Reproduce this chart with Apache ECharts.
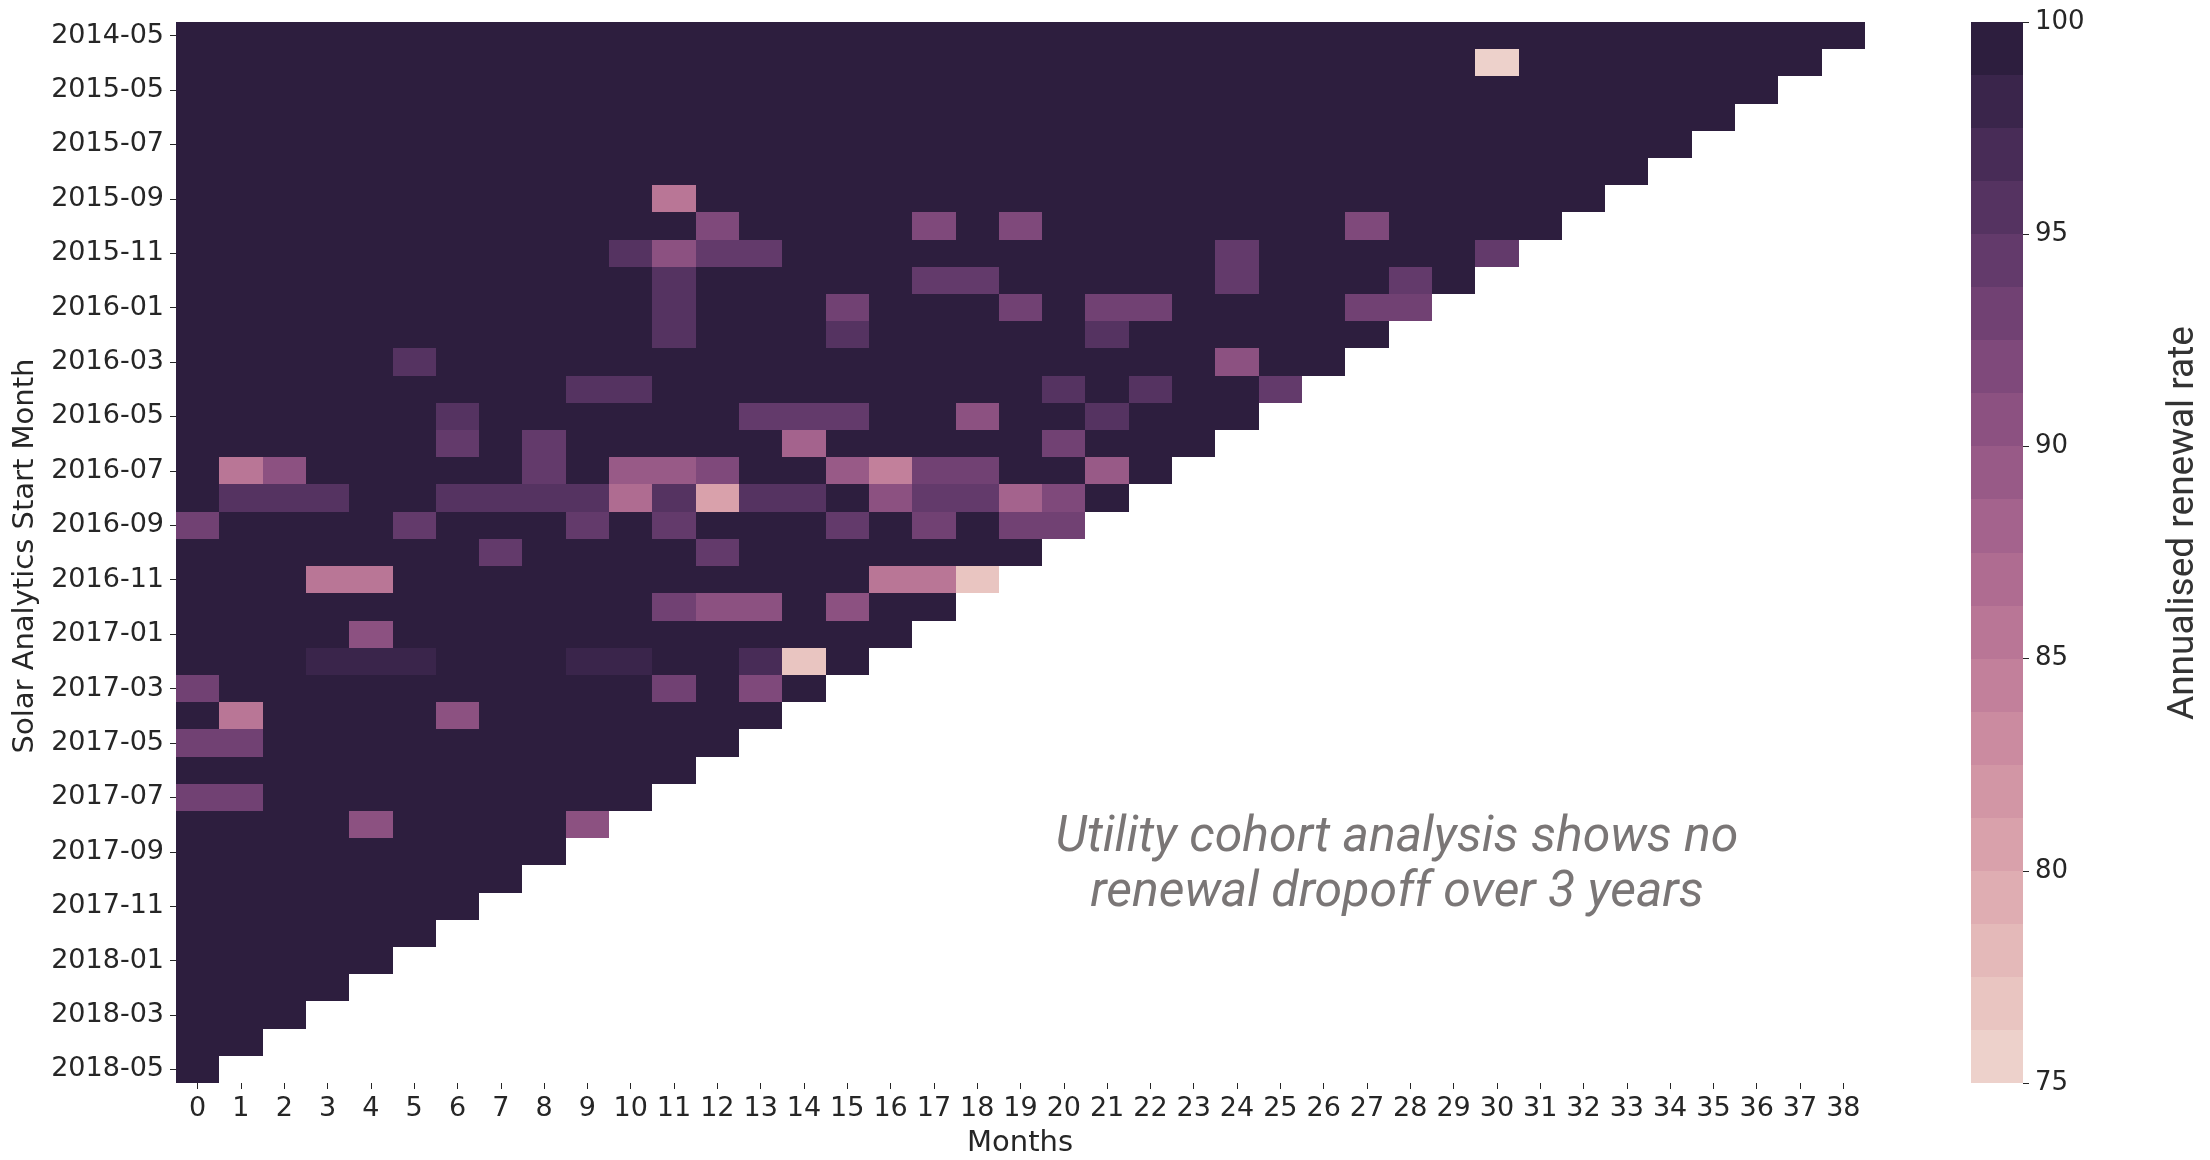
<!DOCTYPE html>
<html>
<head>
<meta charset="utf-8">
<title>Utility cohort renewal</title>
<script src="https://cdn.jsdelivr.net/npm/echarts@6/dist/echarts.min.js"></script>
<style>
  html, body { margin: 0; padding: 0; background: #ffffff; }
  #chart { width: 2210px; height: 1160px; }
</style>
</head>
<body>
<div id="chart"></div>
<script>
// Cohort start months (one row each, top to bottom)
const startMonths = [
  '2014-05', '2015-04', '2015-05', '2015-06', '2015-07', '2015-08', '2015-09', '2015-10',
  '2015-11', '2015-12', '2016-01', '2016-02', '2016-03', '2016-04', '2016-05', '2016-06',
  '2016-07', '2016-08', '2016-09', '2016-10', '2016-11', '2016-12', '2017-01', '2017-02',
  '2017-03', '2017-04', '2017-05', '2017-06', '2017-07', '2017-08', '2017-09', '2017-10',
  '2017-11', '2017-12', '2018-01', '2018-02', '2018-03', '2018-04', '2018-05'
];

// Months since the cohort started
const monthsSince = [
  '0', '1', '2', '3', '4', '5', '6', '7', '8', '9',
  '10', '11', '12', '13', '14', '15', '16', '17', '18', '19',
  '20', '21', '22', '23', '24', '25', '26', '27', '28', '29',
  '30', '31', '32', '33', '34', '35', '36', '37', '38'
];

// Annualised renewal rate (%) per cohort row, month 0 onwards
const renewal = [
  [100,100,100,100,100,100,100,100,100,100, 100,100,100,100,100,100,100,100,100,100, 100,100,100,100,100,100,100,100,100,100, 100,100,100,100,100,100,100,100,100],
  [100,100,100,100,100,100,100,100,100,100, 100,100,100,100,100,100,100,100,100,100, 100,100,100,100,100,100,100,100,100,100, 76,100,100,100,100,100,100,100],
  [100,100,100,100,100,100,100,100,100,100, 100,100,100,100,100,100,100,100,100,100, 100,100,100,100,100,100,100,100,100,100, 100,100,100,100,100,100,100],
  [100,100,100,100,100,100,100,100,100,100, 100,100,100,100,100,100,100,100,100,100, 100,100,100,100,100,100,100,100,100,100, 100,100,100,100,100,100],
  [100,100,100,100,100,100,100,100,100,100, 100,100,100,100,100,100,100,100,100,100, 100,100,100,100,100,100,100,100,100,100, 100,100,100,100,100],
  [100,100,100,100,100,100,100,100,100,100, 100,100,100,100,100,100,100,100,100,100, 100,100,100,100,100,100,100,100,100,100, 100,100,100,100],
  [100,100,100,100,100,100,100,100,100,100, 100,86,100,100,100,100,100,100,100,100, 100,100,100,100,100,100,100,100,100,100, 100,100,100],
  [100,100,100,100,100,100,100,100,100,100, 100,100,92,100,100,100,100,92,100,92, 100,100,100,100,100,100,100,92,100,100, 100,100],
  [100,100,100,100,100,100,100,100,100,100, 95,91,94,94,100,100,100,100,100,100, 100,100,100,100,94,100,100,100,100,100, 94],
  [100,100,100,100,100,100,100,100,100,100, 100,95,100,100,100,100,100,94,94,100, 100,100,100,100,94,100,100,100,94,100],
  [100,100,100,100,100,100,100,100,100,100, 100,95,100,100,100,93,100,100,100,93, 100,93,93,100,100,100,100,93,93],
  [100,100,100,100,100,100,100,100,100,100, 100,96,100,100,100,95,100,100,100,100, 100,95,100,100,100,100,100,100],
  [100,100,100,100,100,96,100,100,100,100, 100,100,100,100,100,100,100,100,100,100, 100,100,100,100,90,100,100],
  [100,100,100,100,100,100,100,100,100,95, 95,100,100,100,100,100,100,100,100,100, 95,100,95,100,100,94],
  [100,100,100,100,100,100,95,100,100,100, 100,100,100,94,94,94,100,100,91,100, 100,95,100,100,100],
  [100,100,100,100,100,100,94,100,94,100, 100,100,100,100,88,100,100,100,100,100, 93,100,100,100],
  [100,86,90,100,100,100,100,100,94,100, 89,89,92,100,100,89,84,93,93,100, 100,89,100],
  [100,95,95,95,100,100,95,95,95,95, 87,95,81,95,95,100,91,94,94,88, 92,100],
  [93,100,100,100,100,94,100,100,100,94, 100,94,100,100,100,94,100,93,100,93, 93],
  [100,100,100,100,100,100,100,94,100,100, 100,100,94,100,100,100,100,100,100,100],
  [100,100,100,86,86,100,100,100,100,100, 100,100,100,100,100,100,86,86,77],
  [100,100,100,100,100,100,100,100,100,100, 100,93,90,90,100,90,100,100],
  [100,100,100,100,90,100,100,100,100,100, 100,100,100,100,100,100,100],
  [100,100,100,98,98,98,100,100,100,98, 98,100,100,97,77,100],
  [93,100,100,100,100,100,100,100,100,100, 100,93,100,92,100],
  [100,85,100,100,100,100,91,100,100,100, 100,100,100,100],
  [93,93,100,100,100,100,100,100,100,100, 100,100,100],
  [100,100,100,100,100,100,100,100,100,100, 100,100],
  [93,93,100,100,100,100,100,100,100,100, 100],
  [100,100,100,100,90,100,100,100,100,90],
  [100,100,100,100,100,100,100,100,100],
  [100,100,100,100,100,100,100,100],
  [100,100,100,100,100,100,100],
  [100,100,100,100,100,100],
  [100,100,100,100,100],
  [100,100,100,100],
  [100,100,100],
  [100,100],
  [100]
];

// Colour scale limits and number of discrete steps
const scaleMin = 75;
const scaleMax = 100;
const scaleSteps = 20;
const colorbarInterval = 5;

// Seaborn-style cubehelix palette (start 0, rot 0.4, hue 0.8, light 0.85 -> dark 0.15)
function cubehelix(x) {
  const start = 0, rot = 0.4, gamma = 1, hue = 0.8;
  const xg = Math.pow(x, gamma);
  const a = hue * xg * (1 - xg) / 2;
  const phi = 2 * Math.PI * (start / 3 + rot * x);
  const c = Math.cos(phi), s = Math.sin(phi);
  const rgb = [
    xg + a * (-0.14861 * c + 1.78277 * s),
    xg + a * (-0.29227 * c - 0.90649 * s),
    xg + a * (1.97294 * c)
  ];
  return '#' + rgb.map(v => {
    const n = Math.round(Math.min(1, Math.max(0, v)) * 255);
    return n.toString(16).padStart(2, '0');
  }).join('');
}
const palette = [];
for (let i = 0; i < scaleSteps; i++) {
  palette.push(cubehelix(0.85 + (0.15 - 0.85) * i / (scaleSteps - 1)));
}
const stepSize = (scaleMax - scaleMin) / scaleSteps;
const pieces = palette.map((color, i) => {
  const lo = scaleMin + i * stepSize;
  const hi = lo + stepSize;
  return i === scaleSteps - 1 ? { gte: lo, lte: hi, color } : { gte: lo, lt: hi, color };
});
const colorbarBands = palette.map((color, i) => [0, scaleMin + i * stepSize, scaleMin + (i + 1) * stepSize, i]);

// Heatmap cells: [month, cohort row, rate]
const cells = [];
renewal.forEach((row, r) => row.forEach((v, m) => cells.push([m, r, v])));

const tickFont = 'DejaVu Sans';
const textColor = '#262626';

// Cell rectangle snapped to whole pixels so neighbouring cells meet without seams
function cellRect(api, cx, cy) {
  const c = api.coord([cx, cy]);
  const size = api.size([1, 1]);
  const x0 = Math.round(c[0] - size[0] / 2), x1 = Math.round(c[0] + size[0] / 2);
  const y0 = Math.round(c[1] - size[1] / 2), y1 = Math.round(c[1] + size[1] / 2);
  return { x: x0, y: y0, width: x1 - x0, height: y1 - y0 };
}

const chart = echarts.init(document.getElementById('chart'), null, { renderer: 'canvas' });
chart.setOption({
  animation: false,
  backgroundColor: '#ffffff',
  grid: [
    { left: 176, top: 22, width: 1689, height: 1061 },
    { left: 1971, top: 22, width: 52, height: 1061 }
  ],
  xAxis: [
    {
      type: 'category', gridIndex: 0, data: monthsSince, position: 'bottom',
      axisLine: { show: false },
      axisTick: { show: true, alignWithLabel: true, length: 6, lineStyle: { color: textColor, width: 1 } },
      axisLabel: { interval: 0, margin: 12, fontSize: 27, fontFamily: tickFont, color: textColor },
      splitLine: { show: false }
    },
    {
      type: 'category', gridIndex: 1, data: ['bar'], show: false
    }
  ],
  yAxis: [
    {
      type: 'category', gridIndex: 0, data: startMonths, inverse: true,
      axisLine: { show: false },
      axisTick: { show: true, alignWithLabel: true, interval: 1, length: 6, lineStyle: { color: textColor, width: 1 } },
      axisLabel: { interval: 1, margin: 12, fontSize: 27, fontFamily: tickFont, color: textColor },
      splitLine: { show: false }
    },
    {
      type: 'value', gridIndex: 1, position: 'right', min: scaleMin, max: scaleMax, interval: colorbarInterval,
      axisLine: { show: false },
      axisTick: { show: true, length: 6, lineStyle: { color: textColor, width: 1 } },
      axisLabel: { margin: 12, fontSize: 26, fontFamily: tickFont, color: textColor },
      splitLine: { show: false }
    }
  ],
  visualMap: {
    type: 'piecewise', show: false, dimension: 2, seriesIndex: 0, pieces: pieces
  },
  series: [
    {
      type: 'custom', xAxisIndex: 0, yAxisIndex: 0, data: cells, silent: true,
      encode: { x: 0, y: 1 },
      renderItem: function (params, api) {
        return {
          type: 'rect',
          shape: cellRect(api, api.value(0), api.value(1)),
          style: { fill: api.visual('color') }
        };
      }
    },
    {
      type: 'custom', xAxisIndex: 1, yAxisIndex: 1, data: colorbarBands, silent: true,
      encode: { x: 0, y: [1, 2] },
      renderItem: function (params, api) {
        const top = api.coord([api.value(0), api.value(2)]);
        const bottom = api.coord([api.value(0), api.value(1)]);
        const w = api.size([1, 0])[0];
        const x0 = Math.round(top[0] - w / 2), x1 = Math.round(top[0] + w / 2);
        const y0 = Math.round(top[1]), y1 = Math.round(bottom[1]);
        return {
          type: 'rect',
          shape: { x: x0, y: y0, width: x1 - x0, height: y1 - y0 },
          style: { fill: palette[api.value(3)] }
        };
      }
    }
  ],
  graphic: [
    {
      type: 'text', x: 25, y: 556, rotation: Math.PI / 2,
      style: { text: 'Solar Analytics Start Month', x: 0, y: 0, textAlign: 'center', textVerticalAlign: 'middle',
               font: '29px "DejaVu Sans"', fill: textColor }
    },
    {
      type: 'text', x: 1020, y: 1143,
      style: { text: 'Months', x: 0, y: 0, textAlign: 'center', textVerticalAlign: 'middle',
               font: '29px "DejaVu Sans"', fill: textColor }
    },
    {
      type: 'text', x: 2184, y: 523, rotation: Math.PI / 2,
      style: { text: 'Annualised renewal rate', x: 0, y: 0, textAlign: 'center', textVerticalAlign: 'middle',
               font: '37px Roboto', fill: '#333333' }
    },
    {
      type: 'text', x: 1397, y: 866,
      style: { text: 'Utility cohort analysis shows no\nrenewal dropoff over 3 years', x: 0, y: 0,
               textAlign: 'center', textVerticalAlign: 'middle', lineHeight: 55,
               font: 'italic 400 50px Roboto', fill: '#7a7676' }
    }
  ]
});
</script>
</body>
</html>
